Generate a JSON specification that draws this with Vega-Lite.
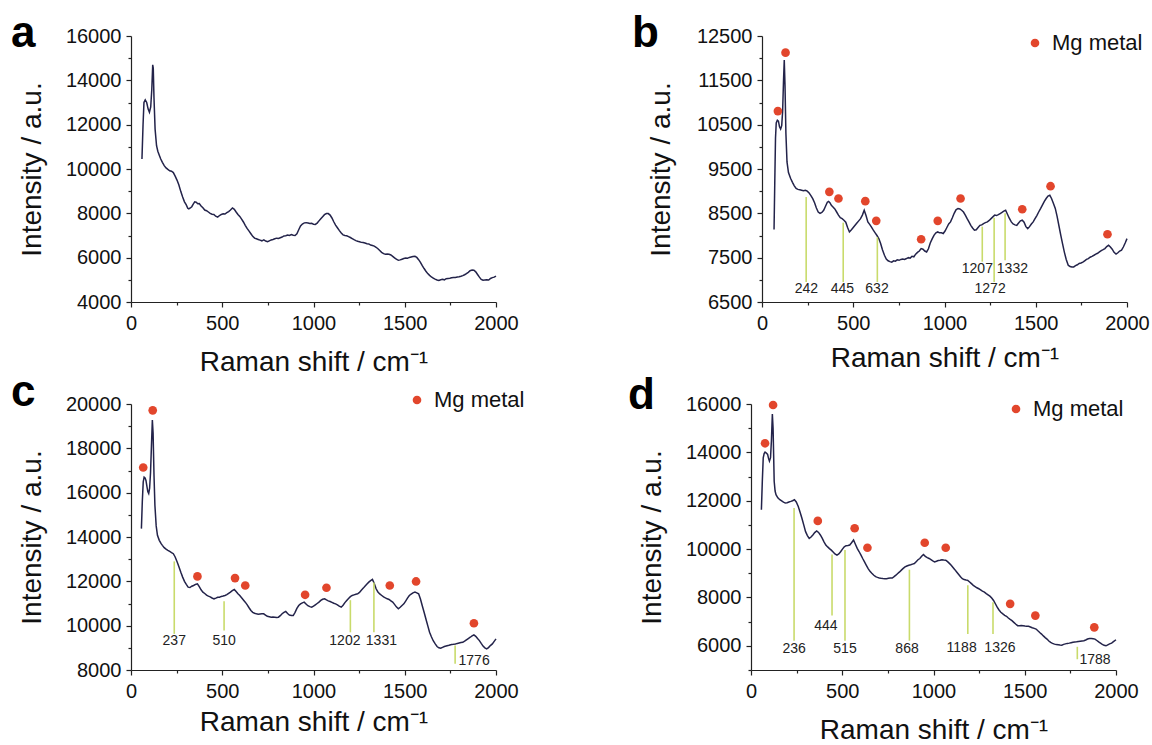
{
"$schema": "https://vega.github.io/schema/vega-lite/v6.json",
"background": "white",
"padding": {"left": 11, "top": 12, "right": 0, "bottom": 0},
"bounds": "flush",
"spacing": 368,
"resolve": {"scale": {"color": "independent"}, "legend": {"color": "independent"}},
"config": {
  "view": {"stroke": null},
  "font": "Liberation Sans",
  "axis": {"domainColor": "#222", "domainWidth": 1.2, "tickColor": "#222", "tickWidth": 1.2, "grid": false, "labelFont": "Liberation Sans", "labelFontSize": 20, "labelColor": "#111", "titleFont": "Liberation Sans", "titleFontSize": 28, "titleFontWeight": "normal", "titleColor": "#111", "labelOverlap": false, "format": "d", "labelFlush": false, "tickCount": 100},
  "axisX": {"labelPadding": 6},
  "axisY": {"labelPadding": 5},
  "legend": {"labelFont": "Liberation Sans", "labelFontSize": 22, "labelColor": "#111", "symbolSize": 75, "labelOffset": 6, "padding": 0, "symbolType": "circle", "title": null},
  "title": {"font": "Liberation Sans", "fontSize": 44, "fontWeight": "bold", "color": "#000", "anchor": "start", "frame": "group", "offset": 0, "baseline": "alphabetic"}
},
"datasets": {
"la": [{"x":60,"y":10450},{"x":66,"y":12000},{"x":71,"y":13000},{"x":78,"y":13120},{"x":86,"y":13000},{"x":94,"y":12700},{"x":101,"y":12560},{"x":108,"y":12800},{"x":114,"y":13600},{"x":119,"y":14700},{"x":122,"y":14550},{"x":126,"y":13200},{"x":132,"y":11800},{"x":140,"y":11050},{"x":147,"y":10800},{"x":155,"y":10620},{"x":163,"y":10450},{"x":172,"y":10300},{"x":182,"y":10150},{"x":192,"y":10050},{"x":202,"y":9980},{"x":212,"y":9920},{"x":222,"y":9900},{"x":232,"y":9840},{"x":242,"y":9680},{"x":252,"y":9500},{"x":262,"y":9290},{"x":273,"y":8980},{"x":283,"y":8740},{"x":293,"y":8520},{"x":303,"y":8380},{"x":311,"y":8230},{"x":317,"y":8200},{"x":325,"y":8240},{"x":333,"y":8300},{"x":341,"y":8420},{"x":349,"y":8520},{"x":357,"y":8500},{"x":366,"y":8430},{"x":374,"y":8440},{"x":384,"y":8330},{"x":394,"y":8250},{"x":404,"y":8150},{"x":414,"y":8120},{"x":424,"y":8060},{"x":434,"y":8000},{"x":444,"y":7960},{"x":454,"y":7950},{"x":464,"y":7870},{"x":475,"y":7830},{"x":485,"y":7900},{"x":495,"y":7950},{"x":505,"y":7980},{"x":515,"y":7970},{"x":525,"y":8030},{"x":535,"y":8080},{"x":545,"y":8150},{"x":556,"y":8240},{"x":566,"y":8180},{"x":576,"y":8060},{"x":586,"y":7950},{"x":596,"y":7860},{"x":606,"y":7740},{"x":616,"y":7610},{"x":626,"y":7460},{"x":636,"y":7320},{"x":647,"y":7200},{"x":657,"y":7080},{"x":667,"y":6960},{"x":677,"y":6880},{"x":687,"y":6850},{"x":697,"y":6820},{"x":707,"y":6790},{"x":717,"y":6760},{"x":728,"y":6800},{"x":738,"y":6750},{"x":748,"y":6720},{"x":758,"y":6760},{"x":768,"y":6800},{"x":778,"y":6820},{"x":788,"y":6850},{"x":798,"y":6880},{"x":808,"y":6870},{"x":818,"y":6900},{"x":828,"y":6930},{"x":838,"y":6980},{"x":848,"y":6990},{"x":858,"y":7020},{"x":868,"y":7000},{"x":879,"y":7040},{"x":889,"y":7010},{"x":899,"y":7000},{"x":909,"y":7080},{"x":919,"y":7260},{"x":929,"y":7430},{"x":939,"y":7520},{"x":950,"y":7570},{"x":960,"y":7580},{"x":970,"y":7560},{"x":980,"y":7540},{"x":990,"y":7550},{"x":1000,"y":7510},{"x":1010,"y":7500},{"x":1020,"y":7560},{"x":1030,"y":7660},{"x":1040,"y":7760},{"x":1050,"y":7850},{"x":1060,"y":7940},{"x":1071,"y":7990},{"x":1081,"y":7990},{"x":1091,"y":7920},{"x":1101,"y":7790},{"x":1111,"y":7620},{"x":1121,"y":7470},{"x":1131,"y":7350},{"x":1142,"y":7220},{"x":1152,"y":7110},{"x":1162,"y":7030},{"x":1172,"y":7000},{"x":1182,"y":6990},{"x":1192,"y":6950},{"x":1202,"y":6910},{"x":1212,"y":6860},{"x":1222,"y":6810},{"x":1232,"y":6770},{"x":1242,"y":6740},{"x":1252,"y":6720},{"x":1262,"y":6690},{"x":1272,"y":6680},{"x":1282,"y":6660},{"x":1293,"y":6630},{"x":1303,"y":6620},{"x":1313,"y":6570},{"x":1323,"y":6550},{"x":1333,"y":6520},{"x":1343,"y":6470},{"x":1353,"y":6400},{"x":1363,"y":6320},{"x":1373,"y":6240},{"x":1384,"y":6180},{"x":1394,"y":6160},{"x":1404,"y":6170},{"x":1414,"y":6150},{"x":1424,"y":6120},{"x":1434,"y":6060},{"x":1444,"y":5990},{"x":1454,"y":5930},{"x":1465,"y":5880},{"x":1475,"y":5900},{"x":1485,"y":5930},{"x":1495,"y":5960},{"x":1505,"y":5980},{"x":1515,"y":5970},{"x":1525,"y":6010},{"x":1535,"y":6030},{"x":1545,"y":6050},{"x":1556,"y":6060},{"x":1566,"y":6010},{"x":1576,"y":5910},{"x":1586,"y":5790},{"x":1596,"y":5640},{"x":1606,"y":5510},{"x":1616,"y":5390},{"x":1626,"y":5280},{"x":1636,"y":5200},{"x":1646,"y":5130},{"x":1656,"y":5080},{"x":1666,"y":5030},{"x":1677,"y":4990},{"x":1687,"y":4970},{"x":1697,"y":5000},{"x":1707,"y":5020},{"x":1717,"y":5000},{"x":1727,"y":5050},{"x":1737,"y":5060},{"x":1747,"y":5070},{"x":1757,"y":5090},{"x":1767,"y":5100},{"x":1777,"y":5110},{"x":1788,"y":5130},{"x":1798,"y":5140},{"x":1808,"y":5160},{"x":1818,"y":5190},{"x":1828,"y":5230},{"x":1838,"y":5280},{"x":1848,"y":5340},{"x":1858,"y":5410},{"x":1869,"y":5440},{"x":1879,"y":5430},{"x":1889,"y":5360},{"x":1899,"y":5240},{"x":1909,"y":5120},{"x":1919,"y":5020},{"x":1929,"y":4980},{"x":1939,"y":4990},{"x":1949,"y":5000},{"x":1960,"y":4990},{"x":1970,"y":5060},{"x":1980,"y":5100},{"x":1990,"y":5120},{"x":2000,"y":5170}],
"lb": [{"x":66,"y":8134},{"x":70,"y":9200},{"x":74,"y":10200},{"x":78,"y":10540},{"x":84,"y":10600},{"x":90,"y":10580},{"x":96,"y":10450},{"x":102,"y":10400},{"x":108,"y":10480},{"x":113,"y":10800},{"x":118,"y":11500},{"x":122,"y":11960},{"x":126,"y":11400},{"x":131,"y":10300},{"x":137,"y":9660},{"x":145,"y":9420},{"x":157,"y":9285},{"x":167,"y":9200},{"x":177,"y":9120},{"x":187,"y":9060},{"x":197,"y":9040},{"x":207,"y":9030},{"x":217,"y":9020},{"x":227,"y":9010},{"x":238,"y":9020},{"x":248,"y":9000},{"x":258,"y":8960},{"x":268,"y":8900},{"x":278,"y":8830},{"x":288,"y":8740},{"x":298,"y":8620},{"x":308,"y":8530},{"x":318,"y":8500},{"x":328,"y":8520},{"x":338,"y":8570},{"x":348,"y":8660},{"x":358,"y":8750},{"x":365,"y":8770},{"x":372,"y":8740},{"x":380,"y":8680},{"x":389,"y":8645},{"x":399,"y":8600},{"x":409,"y":8530},{"x":419,"y":8460},{"x":429,"y":8400},{"x":439,"y":8380},{"x":449,"y":8345},{"x":459,"y":8300},{"x":469,"y":8180},{"x":479,"y":8080},{"x":490,"y":8130},{"x":500,"y":8180},{"x":510,"y":8230},{"x":520,"y":8280},{"x":530,"y":8330},{"x":540,"y":8380},{"x":550,"y":8460},{"x":560,"y":8570},{"x":570,"y":8450},{"x":580,"y":8307},{"x":590,"y":8250},{"x":600,"y":8190},{"x":610,"y":8120},{"x":620,"y":8060},{"x":630,"y":8000},{"x":640,"y":7930},{"x":650,"y":7820},{"x":660,"y":7680},{"x":671,"y":7555},{"x":681,"y":7470},{"x":691,"y":7430},{"x":701,"y":7410},{"x":711,"y":7400},{"x":721,"y":7430},{"x":731,"y":7420},{"x":741,"y":7450},{"x":751,"y":7440},{"x":761,"y":7460},{"x":771,"y":7470},{"x":781,"y":7460},{"x":792,"y":7480},{"x":802,"y":7500},{"x":812,"y":7490},{"x":822,"y":7530},{"x":832,"y":7520},{"x":842,"y":7580},{"x":852,"y":7620},{"x":862,"y":7650},{"x":872,"y":7705},{"x":882,"y":7690},{"x":892,"y":7650},{"x":902,"y":7630},{"x":912,"y":7700},{"x":922,"y":7830},{"x":933,"y":7930},{"x":943,"y":8010},{"x":953,"y":8060},{"x":963,"y":8080},{"x":973,"y":8060},{"x":983,"y":8060},{"x":993,"y":8045},{"x":1003,"y":8100},{"x":1013,"y":8180},{"x":1023,"y":8260},{"x":1033,"y":8307},{"x":1043,"y":8400},{"x":1053,"y":8500},{"x":1063,"y":8580},{"x":1074,"y":8610},{"x":1084,"y":8600},{"x":1094,"y":8570},{"x":1104,"y":8530},{"x":1114,"y":8460},{"x":1124,"y":8380},{"x":1134,"y":8307},{"x":1144,"y":8230},{"x":1154,"y":8170},{"x":1164,"y":8120},{"x":1174,"y":8130},{"x":1184,"y":8180},{"x":1194,"y":8230},{"x":1204,"y":8240},{"x":1214,"y":8270},{"x":1224,"y":8290},{"x":1235,"y":8307},{"x":1245,"y":8340},{"x":1255,"y":8380},{"x":1265,"y":8420},{"x":1275,"y":8460},{"x":1285,"y":8450},{"x":1295,"y":8470},{"x":1305,"y":8495},{"x":1315,"y":8520},{"x":1325,"y":8550},{"x":1335,"y":8570},{"x":1345,"y":8480},{"x":1355,"y":8390},{"x":1366,"y":8307},{"x":1376,"y":8260},{"x":1386,"y":8240},{"x":1396,"y":8230},{"x":1406,"y":8280},{"x":1416,"y":8330},{"x":1426,"y":8345},{"x":1436,"y":8300},{"x":1446,"y":8200},{"x":1456,"y":8155},{"x":1466,"y":8200},{"x":1476,"y":8260},{"x":1486,"y":8307},{"x":1496,"y":8380},{"x":1506,"y":8450},{"x":1516,"y":8530},{"x":1527,"y":8610},{"x":1537,"y":8690},{"x":1547,"y":8770},{"x":1557,"y":8835},{"x":1567,"y":8890},{"x":1577,"y":8910},{"x":1587,"y":8830},{"x":1597,"y":8720},{"x":1607,"y":8610},{"x":1617,"y":8430},{"x":1627,"y":8220},{"x":1637,"y":8010},{"x":1647,"y":7810},{"x":1657,"y":7620},{"x":1667,"y":7460},{"x":1678,"y":7330},{"x":1688,"y":7300},{"x":1698,"y":7290},{"x":1708,"y":7290},{"x":1718,"y":7320},{"x":1728,"y":7340},{"x":1738,"y":7370},{"x":1748,"y":7380},{"x":1758,"y":7400},{"x":1768,"y":7430},{"x":1778,"y":7460},{"x":1788,"y":7480},{"x":1798,"y":7510},{"x":1808,"y":7530},{"x":1819,"y":7555},{"x":1829,"y":7580},{"x":1839,"y":7600},{"x":1849,"y":7630},{"x":1859,"y":7660},{"x":1869,"y":7680},{"x":1879,"y":7705},{"x":1889,"y":7750},{"x":1899,"y":7780},{"x":1909,"y":7740},{"x":1919,"y":7690},{"x":1929,"y":7620},{"x":1940,"y":7580},{"x":1950,"y":7610},{"x":1960,"y":7650},{"x":1970,"y":7670},{"x":1980,"y":7740},{"x":1990,"y":7830},{"x":2000,"y":7930}],
"pb": [{"x":87,"y":10806},{"x":129,"y":12124},{"x":369,"y":8985},{"x":419,"y":8834},{"x":566,"y":8774},{"x":626,"y":8330},{"x":872,"y":7915},{"x":963,"y":8330},{"x":1088,"y":8834},{"x":1426,"y":8593},{"x":1581,"y":9112},{"x":1893,"y":8028}],
"ab": [{"x":242,"y1":8870,"y2":6950,"lx":243,"ly":6786,"label":"242"},{"x":445,"y1":8290,"y2":6950,"lx":440,"ly":6786,"label":"445"},{"x":632,"y1":7960,"y2":6950,"lx":630,"ly":6786,"label":"632"},{"x":1207,"y1":8200,"y2":7410,"lx":1180,"ly":7253,"label":"1207"},{"x":1272,"y1":8400,"y2":6950,"lx":1250,"ly":6786,"label":"1272"},{"x":1332,"y1":8500,"y2":7440,"lx":1372,"ly":7253,"label":"1332"}],
"lc": [{"x":57,"y":14377},{"x":62,"y":15600},{"x":67,"y":16487},{"x":72,"y":16700},{"x":77,"y":16668},{"x":82,"y":16550},{"x":87,"y":16300},{"x":92,"y":16050},{"x":97,"y":15960},{"x":102,"y":16200},{"x":107,"y":16900},{"x":112,"y":18100},{"x":117,"y":19276},{"x":121,"y":18700},{"x":126,"y":16800},{"x":131,"y":15432},{"x":138,"y":14500},{"x":145,"y":14076},{"x":155,"y":13850},{"x":165,"y":13700},{"x":172,"y":13623},{"x":182,"y":13520},{"x":192,"y":13450},{"x":202,"y":13397},{"x":212,"y":13350},{"x":222,"y":13300},{"x":232,"y":13246},{"x":242,"y":13100},{"x":253,"y":12870},{"x":263,"y":12650},{"x":273,"y":12410},{"x":283,"y":12191},{"x":293,"y":12000},{"x":303,"y":11860},{"x":313,"y":11739},{"x":323,"y":11720},{"x":333,"y":11780},{"x":343,"y":11814},{"x":353,"y":11860},{"x":364,"y":11890},{"x":374,"y":11760},{"x":384,"y":11620},{"x":394,"y":11513},{"x":404,"y":11450},{"x":414,"y":11380},{"x":424,"y":11332},{"x":434,"y":11300},{"x":444,"y":11250},{"x":455,"y":11211},{"x":465,"y":11240},{"x":475,"y":11280},{"x":485,"y":11287},{"x":495,"y":11320},{"x":505,"y":11340},{"x":515,"y":11362},{"x":525,"y":11400},{"x":535,"y":11460},{"x":545,"y":11513},{"x":555,"y":11580},{"x":566,"y":11633},{"x":576,"y":11540},{"x":586,"y":11440},{"x":596,"y":11362},{"x":606,"y":11260},{"x":616,"y":11160},{"x":626,"y":11061},{"x":636,"y":10950},{"x":646,"y":10820},{"x":657,"y":10684},{"x":667,"y":10600},{"x":677,"y":10560},{"x":687,"y":10533},{"x":697,"y":10520},{"x":707,"y":10530},{"x":717,"y":10540},{"x":727,"y":10533},{"x":737,"y":10480},{"x":747,"y":10420},{"x":758,"y":10400},{"x":768,"y":10382},{"x":778,"y":10390},{"x":788,"y":10380},{"x":798,"y":10370},{"x":808,"y":10382},{"x":818,"y":10450},{"x":828,"y":10540},{"x":838,"y":10600},{"x":848,"y":10638},{"x":858,"y":10550},{"x":868,"y":10480},{"x":879,"y":10460},{"x":889,"y":10457},{"x":899,"y":10600},{"x":909,"y":10780},{"x":919,"y":10910},{"x":929,"y":10980},{"x":939,"y":11030},{"x":949,"y":11061},{"x":959,"y":10980},{"x":969,"y":10900},{"x":980,"y":10860},{"x":990,"y":10834},{"x":1000,"y":10880},{"x":1010,"y":10940},{"x":1020,"y":11000},{"x":1030,"y":11061},{"x":1040,"y":11140},{"x":1050,"y":11190},{"x":1061,"y":11211},{"x":1071,"y":11160},{"x":1081,"y":11120},{"x":1091,"y":11091},{"x":1101,"y":11050},{"x":1111,"y":11010},{"x":1121,"y":10985},{"x":1131,"y":10940},{"x":1141,"y":10880},{"x":1152,"y":10834},{"x":1162,"y":10920},{"x":1172,"y":11040},{"x":1182,"y":11136},{"x":1192,"y":11230},{"x":1202,"y":11310},{"x":1212,"y":11362},{"x":1222,"y":11390},{"x":1232,"y":11420},{"x":1242,"y":11437},{"x":1252,"y":11500},{"x":1262,"y":11600},{"x":1273,"y":11694},{"x":1283,"y":11790},{"x":1293,"y":11880},{"x":1303,"y":11965},{"x":1313,"y":12030},{"x":1323,"y":12085},{"x":1333,"y":11900},{"x":1343,"y":11663},{"x":1353,"y":11520},{"x":1363,"y":11430},{"x":1374,"y":11362},{"x":1384,"y":11300},{"x":1394,"y":11250},{"x":1404,"y":11211},{"x":1414,"y":11180},{"x":1424,"y":11120},{"x":1434,"y":11061},{"x":1444,"y":10960},{"x":1454,"y":10850},{"x":1465,"y":10759},{"x":1475,"y":10830},{"x":1485,"y":10910},{"x":1495,"y":10985},{"x":1505,"y":11110},{"x":1515,"y":11240},{"x":1525,"y":11362},{"x":1535,"y":11420},{"x":1545,"y":11480},{"x":1556,"y":11513},{"x":1566,"y":11480},{"x":1576,"y":11437},{"x":1586,"y":11200},{"x":1596,"y":10900},{"x":1606,"y":10608},{"x":1616,"y":10300},{"x":1626,"y":10000},{"x":1636,"y":9704},{"x":1646,"y":9500},{"x":1656,"y":9320},{"x":1667,"y":9176},{"x":1677,"y":9060},{"x":1687,"y":9000},{"x":1697,"y":8980},{"x":1707,"y":9020},{"x":1717,"y":9060},{"x":1727,"y":9080},{"x":1737,"y":9101},{"x":1747,"y":9130},{"x":1757,"y":9150},{"x":1767,"y":9160},{"x":1778,"y":9176},{"x":1788,"y":9200},{"x":1798,"y":9220},{"x":1808,"y":9240},{"x":1818,"y":9251},{"x":1828,"y":9300},{"x":1838,"y":9360},{"x":1848,"y":9420},{"x":1859,"y":9478},{"x":1869,"y":9540},{"x":1879,"y":9583},{"x":1889,"y":9520},{"x":1899,"y":9420},{"x":1909,"y":9327},{"x":1919,"y":9200},{"x":1929,"y":9080},{"x":1939,"y":9000},{"x":1949,"y":8950},{"x":1959,"y":9010},{"x":1969,"y":9100},{"x":1980,"y":9176},{"x":1990,"y":9290},{"x":2000,"y":9402}],
"pc": [{"x":67,"y":17136},{"x":119,"y":19714},{"x":364,"y":12221},{"x":570,"y":12146},{"x":626,"y":11814},{"x":954,"y":11392},{"x":1071,"y":11709},{"x":1418,"y":11814},{"x":1562,"y":11995},{"x":1879,"y":10111}],
"ac": [{"x":237,"y1":12900,"y2":9630,"lx":237,"ly":9327,"label":"237"},{"x":510,"y1":11100,"y2":9780,"lx":510,"ly":9327,"label":"510"},{"x":1202,"y1":11150,"y2":9700,"lx":1172,"ly":9327,"label":"1202"},{"x":1331,"y1":11950,"y2":9700,"lx":1372,"ly":9327,"label":"1331"},{"x":1776,"y1":9100,"y2":8280,"lx":1880,"ly":8390,"label":"1776"}],
"ld": [{"x":57,"y":11625},{"x":62,"y":12800},{"x":67,"y":13778},{"x":72,"y":13950},{"x":77,"y":14014},{"x":84,"y":13970},{"x":91,"y":13917},{"x":96,"y":13750},{"x":101,"y":13639},{"x":107,"y":13778},{"x":112,"y":14500},{"x":117,"y":15583},{"x":121,"y":15000},{"x":127,"y":12805},{"x":132,"y":12400},{"x":137,"y":12250},{"x":147,"y":12120},{"x":158,"y":12042},{"x":168,"y":11990},{"x":178,"y":11940},{"x":188,"y":11903},{"x":198,"y":11920},{"x":208,"y":11950},{"x":218,"y":11972},{"x":228,"y":12000},{"x":238,"y":12042},{"x":248,"y":11950},{"x":259,"y":11764},{"x":269,"y":11520},{"x":279,"y":11278},{"x":289,"y":11000},{"x":299,"y":10722},{"x":309,"y":10560},{"x":319,"y":10444},{"x":329,"y":10500},{"x":339,"y":10583},{"x":349,"y":10680},{"x":360,"y":10750},{"x":370,"y":10690},{"x":380,"y":10583},{"x":390,"y":10450},{"x":400,"y":10300},{"x":410,"y":10166},{"x":420,"y":10090},{"x":430,"y":10020},{"x":440,"y":9958},{"x":450,"y":9880},{"x":460,"y":9800},{"x":471,"y":9750},{"x":481,"y":9800},{"x":491,"y":9889},{"x":501,"y":10000},{"x":511,"y":10097},{"x":521,"y":10140},{"x":531,"y":10150},{"x":541,"y":10166},{"x":551,"y":10260},{"x":562,"y":10375},{"x":572,"y":10200},{"x":582,"y":10028},{"x":592,"y":9900},{"x":602,"y":9760},{"x":612,"y":9611},{"x":622,"y":9470},{"x":632,"y":9330},{"x":642,"y":9194},{"x":652,"y":9080},{"x":662,"y":9000},{"x":673,"y":8916},{"x":683,"y":8860},{"x":693,"y":8830},{"x":703,"y":8805},{"x":713,"y":8790},{"x":723,"y":8780},{"x":733,"y":8777},{"x":743,"y":8770},{"x":753,"y":8790},{"x":763,"y":8800},{"x":774,"y":8805},{"x":784,"y":8860},{"x":794,"y":8920},{"x":804,"y":8990},{"x":814,"y":9055},{"x":824,"y":9130},{"x":834,"y":9200},{"x":844,"y":9264},{"x":854,"y":9300},{"x":865,"y":9333},{"x":875,"y":9350},{"x":885,"y":9380},{"x":895,"y":9403},{"x":905,"y":9480},{"x":915,"y":9560},{"x":925,"y":9611},{"x":935,"y":9700},{"x":945,"y":9778},{"x":955,"y":9700},{"x":966,"y":9650},{"x":976,"y":9611},{"x":986,"y":9560},{"x":996,"y":9510},{"x":1006,"y":9472},{"x":1016,"y":9500},{"x":1026,"y":9530},{"x":1036,"y":9541},{"x":1046,"y":9560},{"x":1056,"y":9550},{"x":1067,"y":9541},{"x":1077,"y":9480},{"x":1087,"y":9410},{"x":1097,"y":9333},{"x":1107,"y":9240},{"x":1117,"y":9150},{"x":1127,"y":9055},{"x":1137,"y":8960},{"x":1148,"y":8860},{"x":1158,"y":8777},{"x":1168,"y":8740},{"x":1178,"y":8720},{"x":1188,"y":8708},{"x":1198,"y":8640},{"x":1208,"y":8570},{"x":1218,"y":8500},{"x":1228,"y":8450},{"x":1238,"y":8400},{"x":1248,"y":8361},{"x":1258,"y":8310},{"x":1268,"y":8260},{"x":1279,"y":8222},{"x":1289,"y":8160},{"x":1299,"y":8110},{"x":1309,"y":8055},{"x":1319,"y":7980},{"x":1329,"y":7875},{"x":1339,"y":7740},{"x":1349,"y":7597},{"x":1359,"y":7480},{"x":1369,"y":7390},{"x":1380,"y":7319},{"x":1390,"y":7260},{"x":1400,"y":7222},{"x":1410,"y":7150},{"x":1420,"y":7090},{"x":1430,"y":7041},{"x":1440,"y":6970},{"x":1450,"y":6900},{"x":1461,"y":6833},{"x":1471,"y":6830},{"x":1481,"y":6840},{"x":1491,"y":6833},{"x":1501,"y":6820},{"x":1511,"y":6810},{"x":1521,"y":6805},{"x":1531,"y":6780},{"x":1541,"y":6750},{"x":1552,"y":6720},{"x":1562,"y":6694},{"x":1572,"y":6620},{"x":1582,"y":6550},{"x":1592,"y":6486},{"x":1602,"y":6410},{"x":1612,"y":6340},{"x":1622,"y":6278},{"x":1632,"y":6200},{"x":1642,"y":6140},{"x":1652,"y":6100},{"x":1663,"y":6069},{"x":1673,"y":6050},{"x":1683,"y":6040},{"x":1693,"y":6030},{"x":1703,"y":6028},{"x":1713,"y":6060},{"x":1723,"y":6080},{"x":1733,"y":6100},{"x":1744,"y":6111},{"x":1754,"y":6130},{"x":1764,"y":6150},{"x":1774,"y":6160},{"x":1784,"y":6166},{"x":1794,"y":6180},{"x":1804,"y":6190},{"x":1814,"y":6200},{"x":1824,"y":6208},{"x":1834,"y":6240},{"x":1844,"y":6280},{"x":1855,"y":6305},{"x":1865,"y":6300},{"x":1875,"y":6290},{"x":1885,"y":6278},{"x":1895,"y":6220},{"x":1905,"y":6160},{"x":1915,"y":6111},{"x":1925,"y":6060},{"x":1935,"y":6020},{"x":1945,"y":6000},{"x":1955,"y":6040},{"x":1965,"y":6080},{"x":1976,"y":6111},{"x":1986,"y":6170},{"x":2000,"y":6250}],
"pd": [{"x":77,"y":14375},{"x":121,"y":15958},{"x":366,"y":11166},{"x":568,"y":10861},{"x":638,"y":10055},{"x":952,"y":10264},{"x":1067,"y":10055},{"x":1420,"y":7736},{"x":1558,"y":7250},{"x":1881,"y":6764}],
"ad": [{"x":236,"y1":11700,"y2":6210,"lx":236,"ly":5860,"label":"236"},{"x":444,"y1":9780,"y2":7250,"lx":410,"ly":6833,"label":"444"},{"x":515,"y1":9960,"y2":6210,"lx":515,"ly":5860,"label":"515"},{"x":868,"y1":9150,"y2":6210,"lx":855,"ly":5860,"label":"868"},{"x":1188,"y1":8500,"y2":6490,"lx":1154,"ly":5930,"label":"1188"},{"x":1326,"y1":7800,"y2":6490,"lx":1364,"ly":5930,"label":"1326"},{"x":1788,"y1":5960,"y2":5445,"lx":1885,"ly":5416,"label":"1788"}]
},
"vconcat": [
{"hconcat": [
  {"width": 365, "height": 266,
   "title": {"text": "a", "dx": -120, "dy": 34},
   "layer": [
    {"data": {"name": "la"}, "mark": {"type": "line", "color": "#23234a", "strokeWidth": 1.5},
     "encoding": {
      "x": {"field": "x", "type": "quantitative", "scale": {"domain": [0, 2000], "nice": false}, "axis": {"title": "Raman shift / cm⁻¹", "values": [0,250,500,750,1000,1250,1500,1750,2000], "labelExpr": "datum.value % 500 === 0 ? datum.label : ''", "tickSize": {"condition": {"test": "datum.value % 500 !== 0", "value": 3}, "value": 5}, "titlePadding": 15}},
      "y": {"field": "y", "type": "quantitative", "scale": {"domain": [4000, 16000], "nice": false}, "axis": {"title": "Intensity / a.u.", "values": [4000,5000,6000,7000,8000,9000,10000,11000,12000,13000,14000,15000,16000], "labelExpr": "datum.value % 2000 === 0 ? datum.label : ''", "tickSize": {"condition": {"test": "datum.value % 2000 !== 0", "value": 3}, "value": 5}, "titlePadding": 19}}
     }}
   ]},
  {"width": 365, "height": 266,
   "title": {"text": "b", "dx": -130, "dy": 34},
   "layer": [
    {"data": {"name": "lb"}, "mark": {"type": "line", "color": "#23234a", "strokeWidth": 1.5},
     "encoding": {
      "x": {"field": "x", "type": "quantitative", "scale": {"domain": [0, 2000], "nice": false}, "axis": {"title": "Raman shift / cm⁻¹", "values": [0,250,500,750,1000,1250,1500,1750,2000], "labelExpr": "datum.value % 500 === 0 ? datum.label : ''", "tickSize": {"condition": {"test": "datum.value % 500 !== 0", "value": 3}, "value": 5}, "titlePadding": 11}},
      "y": {"field": "y", "type": "quantitative", "scale": {"domain": [6500, 12500], "nice": false}, "axis": {"title": "Intensity / a.u.", "values": [6500,7000,7500,8000,8500,9000,9500,10000,10500,11000,11500,12000,12500], "labelExpr": "(datum.value - 6500) % 1000 === 0 ? datum.label : ''", "tickSize": {"condition": {"test": "(datum.value - 6500) % 1000 !== 0", "value": 3}, "value": 5}, "titlePadding": 21}}
     }},
    {"data": {"name": "ab"}, "mark": {"type": "rule", "color": "#c9db6b", "strokeWidth": 1.6},
     "encoding": {"x": {"field": "x", "type": "quantitative"}, "y": {"field": "y1", "type": "quantitative"}, "y2": {"field": "y2"}}},
    {"data": {"name": "ab"}, "mark": {"type": "text", "fontSize": 14, "color": "#222", "font": "Liberation Sans", "baseline": "middle", "align": "center"},
     "encoding": {"x": {"field": "lx", "type": "quantitative"}, "y": {"field": "ly", "type": "quantitative"}, "text": {"field": "label"}}},
    {"data": {"name": "pb"}, "mark": {"type": "circle", "size": 75, "opacity": 1},
     "encoding": {"x": {"field": "x", "type": "quantitative"}, "y": {"field": "y", "type": "quantitative"},
      "color": {"datum": "Mg metal", "scale": {"range": ["#e2462c"]}, "legend": {"orient": "none", "legendX": 262, "legendY": -4}}}}
   ]}
 ], "spacing": 266, "bounds": "flush", "resolve": {"scale": {"color": "independent"}, "legend": {"color": "independent"}}},
{"hconcat": [
  {"width": 365, "height": 266,
   "title": {"text": "c", "dx": -120, "dy": 30},
   "layer": [
    {"data": {"name": "lc"}, "mark": {"type": "line", "color": "#23234a", "strokeWidth": 1.5},
     "encoding": {
      "x": {"field": "x", "type": "quantitative", "scale": {"domain": [0, 2000], "nice": false}, "axis": {"title": "Raman shift / cm⁻¹", "values": [0,250,500,750,1000,1250,1500,1750,2000], "labelExpr": "datum.value % 500 === 0 ? datum.label : ''", "tickSize": {"condition": {"test": "datum.value % 500 !== 0", "value": 3}, "value": 5}, "titlePadding": 7}},
      "y": {"field": "y", "type": "quantitative", "scale": {"domain": [8000, 20000], "nice": false}, "axis": {"title": "Intensity / a.u.", "values": [8000,9000,10000,11000,12000,13000,14000,15000,16000,17000,18000,19000,20000], "labelExpr": "datum.value % 2000 === 0 ? datum.label : ''", "tickSize": {"condition": {"test": "datum.value % 2000 !== 0", "value": 3}, "value": 5}, "titlePadding": 19}}
     }},
    {"data": {"name": "ac"}, "mark": {"type": "rule", "color": "#c9db6b", "strokeWidth": 1.6},
     "encoding": {"x": {"field": "x", "type": "quantitative"}, "y": {"field": "y1", "type": "quantitative"}, "y2": {"field": "y2"}}},
    {"data": {"name": "ac"}, "mark": {"type": "text", "fontSize": 14, "color": "#222", "font": "Liberation Sans", "baseline": "middle", "align": "center"},
     "encoding": {"x": {"field": "lx", "type": "quantitative"}, "y": {"field": "ly", "type": "quantitative"}, "text": {"field": "label"}}},
    {"data": {"name": "pc"}, "mark": {"type": "circle", "size": 75, "opacity": 1},
     "encoding": {"x": {"field": "x", "type": "quantitative"}, "y": {"field": "y", "type": "quantitative"},
      "color": {"datum": "Mg metal", "scale": {"range": ["#e2462c"]}, "legend": {"orient": "none", "legendX": 275, "legendY": -15}}}}
   ]},
  {"width": 365, "height": 266,
   "title": {"text": "d", "dx": -123, "dy": 28},
   "layer": [
    {"data": {"name": "ld"}, "mark": {"type": "line", "color": "#23234a", "strokeWidth": 1.5},
     "encoding": {
      "x": {"field": "x", "type": "quantitative", "scale": {"domain": [0, 2000], "nice": false}, "axis": {"title": "Raman shift / cm⁻¹", "values": [0,250,500,750,1000,1250,1500,1750,2000], "labelExpr": "datum.value % 500 === 0 ? datum.label : ''", "tickSize": {"condition": {"test": "datum.value % 500 !== 0", "value": 3}, "value": 5}, "titlePadding": 15}},
      "y": {"field": "y", "type": "quantitative", "scale": {"domain": [5000, 16000], "nice": false}, "axis": {"title": "Intensity / a.u.", "values": [5000,6000,7000,8000,9000,10000,11000,12000,13000,14000,15000,16000], "labelExpr": "datum.value % 2000 === 0 ? datum.label : ''", "tickSize": {"condition": {"test": "datum.value % 2000 !== 0", "value": 3}, "value": 5}, "titlePadding": 19}}
     }},
    {"data": {"name": "ad"}, "mark": {"type": "rule", "color": "#c9db6b", "strokeWidth": 1.6},
     "encoding": {"x": {"field": "x", "type": "quantitative"}, "y": {"field": "y1", "type": "quantitative"}, "y2": {"field": "y2"}}},
    {"data": {"name": "ad"}, "mark": {"type": "text", "fontSize": 14, "color": "#222", "font": "Liberation Sans", "baseline": "middle", "align": "center"},
     "encoding": {"x": {"field": "lx", "type": "quantitative"}, "y": {"field": "ly", "type": "quantitative"}, "text": {"field": "label"}}},
    {"data": {"name": "pd"}, "mark": {"type": "circle", "size": 75, "opacity": 1},
     "encoding": {"x": {"field": "x", "type": "quantitative"}, "y": {"field": "y", "type": "quantitative"},
      "color": {"datum": "Mg metal", "scale": {"range": ["#e2462c"]}, "legend": {"orient": "none", "legendX": 254, "legendY": -6}}}}
   ]}
 ], "spacing": 255, "bounds": "flush", "resolve": {"scale": {"color": "independent"}, "legend": {"color": "independent"}}}
]
}
